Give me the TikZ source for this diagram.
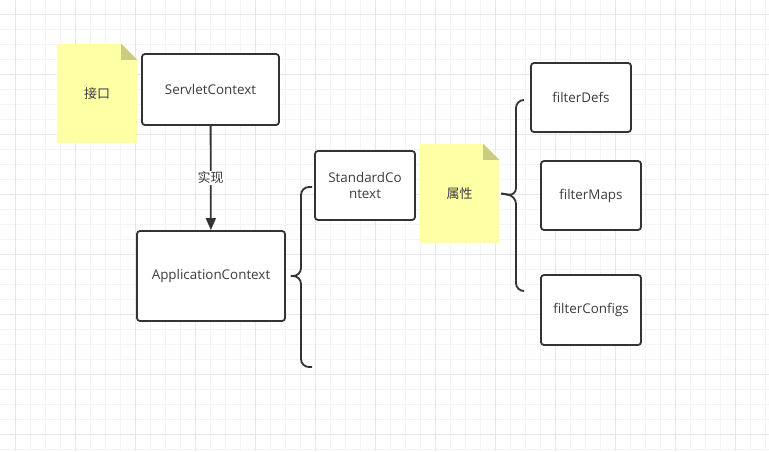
\documentclass[tikz,border=0pt]{standalone}
\usepackage{fontspec}
\setmainfont{Open Sans}
\newfontfamily\cjk{Noto Sans CJK SC}
\usetikzlibrary{arrows.meta,backgrounds}

\definecolor{gridminor}{HTML}{F3F3F3}
\definecolor{gridmajor}{HTML}{E6E6E6}
\definecolor{boxline}{HTML}{333333}
\definecolor{txt}{HTML}{3C3C3C}
\definecolor{noteyel}{HTML}{FFFFA6}
\definecolor{notefold}{HTML}{CCCC7F}

\begin{document}
\begin{tikzpicture}[x=1pt,y=-1pt,
		box/.style={draw=boxline,line width=1.8pt,rounded corners=3pt,fill=white,inner sep=0pt,
			text=txt,align=center,font=\fontsize{13.4}{16.5}\selectfont},
		note/.style={inner sep=0pt,text=txt,font=\cjk\fontsize{13}{15}\selectfont},
		brace/.style={draw=boxline,line width=1.8pt,rounded corners=8pt},
		link/.style={draw=boxline,line width=1.8pt,-{Triangle[length=12pt,width=10pt]}}]
		\useasboundingbox (0,0) rectangle (769,451);
		\begin{pgfonlayer}{background}
			\fill[white] (0,0) rectangle (769,451);
			\foreach \x in {15,30,...,765} \draw[gridminor] (\x,0) -- (\x,451);
			\foreach \y in {14,29,...,449} \draw[gridminor] (0,\y) -- (769,\y);
			\foreach \x in {15,75,...,735} \draw[gridmajor] (\x,0) -- (\x,451);
			\foreach \y in {14,74,...,434} \draw[gridmajor] (0,\y) -- (769,\y);
		\end{pgfonlayer}

		% notes
		\node[note,minimum width=80pt,minimum height=99pt] (n1) at (97,93.5) {接口};
		\node[note,minimum width=79pt,minimum height=99pt] (n2) at (459.5,193.5) {属性};
		\begin{pgfonlayer}{background}
			\foreach \n in {n1,n2} {
				\fill[noteyel] (\n.north west) -- ([xshift=-16pt]\n.north east) -- ([yshift=-16pt]\n.north east)
					-- (\n.south east) -- (\n.south west) -- cycle;
				\fill[notefold] ([xshift=-16pt]\n.north east) -- ([xshift=-16pt,yshift=-16pt]\n.north east)
					-- ([yshift=-16pt]\n.north east) -- cycle;
			}
		\end{pgfonlayer}

		% boxes
		\node[box,minimum width=137pt,minimum height=71pt] (sc) at (210.5,89.5) {ServletContext};
		\node[box,minimum width=148pt,minimum height=90pt] (ac) at (211,276) {ApplicationContext};
		\node[box,minimum width=100pt,minimum height=69pt] (std) at (365,185.5) {StandardCo\\ntext};
		\node[box,minimum width=100pt,minimum height=69pt] (fd) at (581,97.5) {filterDefs};
		\node[box,minimum width=100pt,minimum height=69pt] (fm) at (591,195.5) {filterMaps};
		\node[box,minimum width=100pt,minimum height=70pt] (fc) at (591,310) {filterConfigs};

		\draw[link] (sc) -- (ac) node[midway,fill=white,inner sep=1pt,text=txt,font=\cjk\fontsize{13}{15}\selectfont] {实现};

		% braces
		\coordinate (b1) at ([xshift=5pt]ac.east);
		\draw[brace] (312,187) -- (301,187) -- (301,276) -- (b1);
		\draw[brace] (b1) -- (301,276) -- (301,367) -- (312,367);
		\coordinate (b2) at ([xshift=2pt]n2.east);
		\draw[brace] (524,100) -- (516,100) -- (516,196) -- (b2);
		\draw[brace] (b2) -- (516,196) -- (516,291) -- (524,291);
	\end{tikzpicture}
\end{document}
